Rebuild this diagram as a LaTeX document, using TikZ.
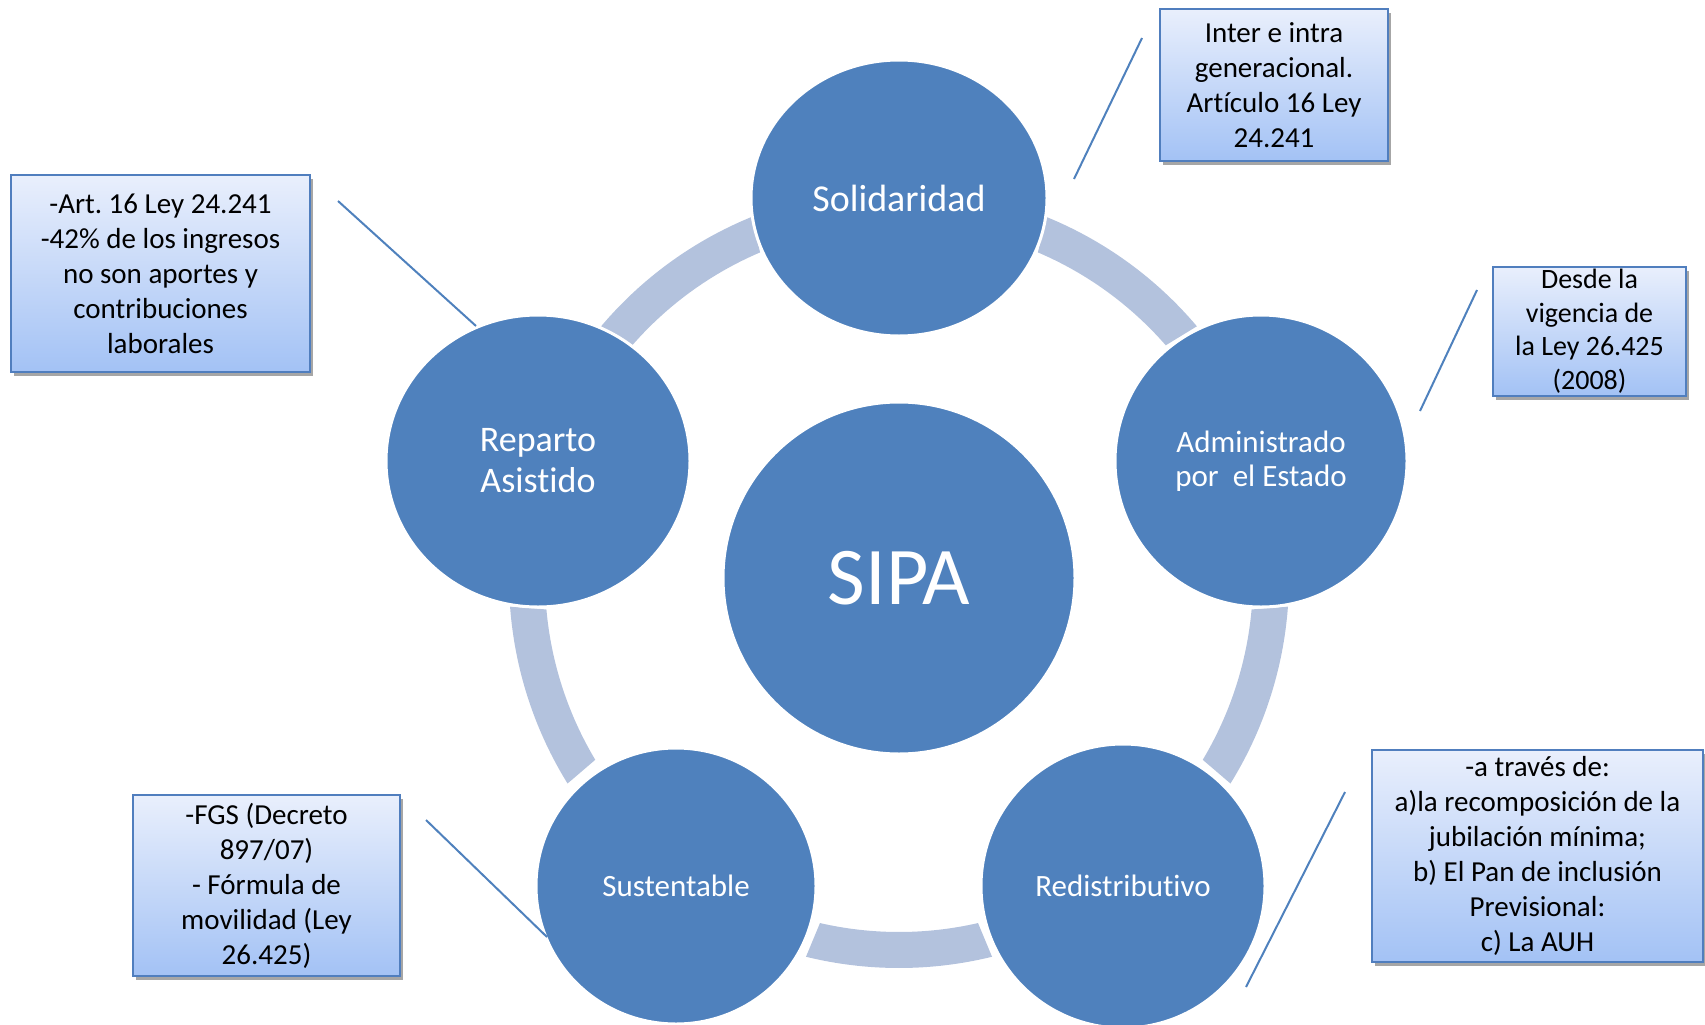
\documentclass[tikz,border=0pt]{standalone}
\usepackage{fontspec}
\setmainfont{Carlito}[Ligatures=NoCommon]
\usetikzlibrary{shapes.geometric,shadows}
\definecolor{bubc}{RGB}{79,129,189}
\definecolor{ringc}{RGB}{179,194,221}
\definecolor{boxtop}{RGB}{233,239,252}
\definecolor{boxbot}{RGB}{163,194,245}
\definecolor{boxline}{RGB}{80,126,190}
\frenchspacing
\begin{document}
\begin{tikzpicture}[x=1pt,y=1pt,
  bub/.style={ellipse, fill=bubc, draw=white, line width=3pt, text=white, align=center, inner sep=0pt},
  callout/.style={rectangle, draw=boxline, line width=2pt, top color=boxtop, bottom color=boxbot,
    drop shadow={shadow xshift=3pt, shadow yshift=-4pt, opacity=0.35, fill=black},
    align=center, inner sep=0pt, font=\fontsize{29}{35}\selectfont},
  lead/.style={draw=bubc, line width=2pt}]
\useasboundingbox (0,0) rectangle (1705,-1025);
\clip (0,0) rectangle (1705,-1025);
% ring segments
\foreach \a in {54,-18,-90,-162,126}{
  \pgfmathsetmacro{\si}{\a-12.9}
  \pgfmathsetmacro{\ei}{\a+12.9}
  \pgfmathsetmacro{\so}{\a-13.8}
  \pgfmathsetmacro{\eo}{\a+13.8}
  \fill[ringc, shift={(899,-578)}] (\si:354pt) arc[start angle=\si, end angle=\ei, radius=354pt]
     -- (\eo:390pt) arc[start angle=\eo, end angle=\so, radius=390pt] -- cycle;
}
% circles
\node[bub, minimum width=296pt, minimum height=276pt, font=\fontsize{38}{44}\selectfont] (sol) at (899,-198) {Solidaridad};
\node[bub, minimum size=292pt, font=\fontsize{31}{34}\selectfont] (adm) at (1261,-461) {Administrado\\por~ el Estado};
\node[bub, minimum size=284pt, font=\fontsize{31}{36}\selectfont] (red) at (1123,-886) {Redistributivo};
\node[bub, minimum width=280pt, minimum height=276pt, font=\fontsize{31}{36}\selectfont] (sus) at (676,-886) {Sustentable};
\node[bub, minimum width=304pt, minimum height=292pt, font=\fontsize{36}{41}\selectfont] (rep) at (538,-461) {Reparto\\Asistido};
\node[bub, minimum size=352pt, font=\fontsize{82}{90}\selectfont] (sipa) at (899,-578) {SIPA};
% callout boxes
\node[callout, minimum width=228pt, minimum height=152pt] (b1) at (1274,-85)
  {Inter e intra\\generacional.\\Artículo 16 Ley\\24.241};
\node[callout, minimum width=193pt, minimum height=129pt, font=\fontsize{28}{33.5}\selectfont] (b2) at (1589.5,-331)
  {Desde la\\vigencia de\\la Ley 26.425\\(2008)};
\node[callout, minimum width=299pt, minimum height=197pt] (b3) at (160.5,-273.5)
  {-Art. 16 Ley 24.241\\-42\% de los ingresos\\no son aportes y\\contribuciones\\laborales};
\node[callout, minimum width=267pt, minimum height=181pt] (b4) at (266.5,-885.5)
  {-FGS (Decreto\\897/07)\\- Fórmula de\\movilidad (Ley\\26.425)};
\node[callout, minimum width=331pt, minimum height=212pt] (b5) at (1537.5,-856)
  {-a través de:\\a)la recomposición de la\\jubilación mínima;\\b) El Pan de inclusión\\Previsional:\\c) La AUH};
% leader lines
\coordinate (l1a) at (1074,-179); \coordinate (l1b) at (1142,-38);
\coordinate (l2a) at (1420,-411); \coordinate (l2b) at (1477,-290);
\coordinate (l3a) at (476,-326);  \coordinate (l3b) at (338,-201);
\coordinate (l4a) at (547,-937);  \coordinate (l4b) at (426,-820);
\coordinate (l5a) at (1246,-987); \coordinate (l5b) at (1345,-792);
\draw[lead] (l1a) -- (l1b);
\draw[lead] (l2a) -- (l2b);
\draw[lead] (l3a) -- (l3b);
\draw[lead] (l4a) -- (l4b);
\draw[lead] (l5a) -- (l5b);
\end{tikzpicture}
\end{document}
